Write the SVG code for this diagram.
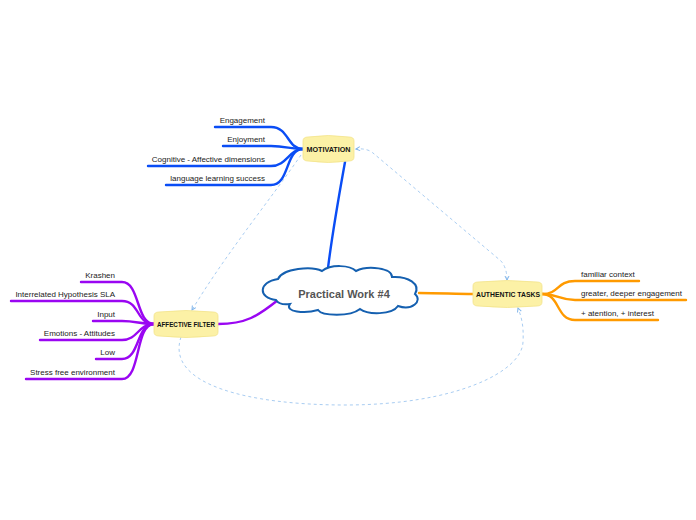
<svg xmlns="http://www.w3.org/2000/svg" width="696" height="520" viewBox="0 0 696 520">
<style>
.lbl{font-family:"Liberation Sans",Arial,sans-serif;font-size:8px;fill:#222}
.nd{fill:#fcf1a6;stroke:#f3e38c;stroke-width:0.8}
.ndt{font-family:"Liberation Sans",Arial,sans-serif;font-size:7px;font-weight:bold;fill:#111;text-anchor:middle}
.b{fill:none;stroke:#0a4df5;stroke-width:2.4;stroke-linecap:round}
.p{fill:none;stroke:#9a06f2;stroke-width:2.4;stroke-linecap:round}
.o{fill:none;stroke:#ff9a00;stroke-width:2.4;stroke-linecap:round}
.d{fill:none;stroke:#a9cdf2;stroke-width:1;stroke-dasharray:3 3}
</style>
<defs>
<marker id="ah" markerWidth="6" markerHeight="6" refX="5" refY="3" orient="auto-start-reverse" markerUnits="userSpaceOnUse">
<path d="M1,1 L5,3 L1,5" fill="none" stroke="#7fb4ea" stroke-width="1"/>
</marker>
</defs>
<rect width="696" height="520" fill="#fff"/>
<g id="connectors">
<path class="b" d="M328,268 C333,228 340,190 345,162"/>
<path class="p" d="M278,300 C258,316 246,324 218,324"/>
<path class="o" d="M419,293 C440,293 455,294 473,294"/>
<path class="b" d="M215,127 L271,127 C289,127 287,149 303,149"/>
<path class="b" d="M223,146 L271,146 C286,146 290,149 303,149"/>
<path class="b" d="M148,166 L271,166 C287,166 289,149 303,149"/>
<path class="b" d="M166,185 L271,185 C290,185 285,149 303,149"/>
<path class="p" d="M81,282 L122,282 C140,282 136,324 154,324"/>
<path class="p" d="M11,301 L122,301 C140,301 136,324 154,324"/>
<path class="p" d="M93,321 L122,321 C136,321 140,324 154,324"/>
<path class="p" d="M40,340 L122,340 C138,340 138,324 154,324"/>
<path class="p" d="M96,359 L122,359 C140,359 136,324 154,324"/>
<path class="p" d="M26,379 L122,379 C141,379 135,324 154,324"/>
<path class="o" d="M542,294 C560,294 556,281 575,281 L639,281"/>
<path class="o" d="M542,294 C558,294 560,300 575,300 L686,300"/>
<path class="o" d="M542,294 C560,294 556,320 575,320 L658,320"/>
<path class="d" marker-start="url(#ah)" marker-end="url(#ah)" d="M507,280 Q507,268 501,261 L373,153 Q367,148 356,149"/>
<path class="d" marker-end="url(#ah)" d="M301,155 C270,200 225,255 192,310"/>
<path class="d" marker-end="url(#ah)" d="M181,337 C165,385 250,405 345,405 C455,405 522,372 523,342 C524,325 521,316 518,308"/>
</g>
<g id="center">
<path d="M276,300 C258,298 258,282 278,279 C283,268 312,266 322,271 C331,264 350,265 356,271 C368,265 392,268 392,277 C408,276 421,284 415,294 C423,301 412,311 398,306 C392,315 368,315 360,309 C350,317 322,316 318,310 C305,314 284,312 290,304 C283,305 278,303 276,300 Z" fill="#fff" stroke="#1560b0" stroke-width="2"/>
<text x="344" y="298" font-family="'Liberation Sans',Arial,sans-serif" font-size="11" font-weight="bold" fill="#555" text-anchor="middle">Practical Work #4</text>
</g>
<g id="motivation">
<path class="nd" d="M303,141 Q303,137 308,137 Q328,134 349,137 Q354,137 354,141 L354,157 Q354,161 349,161 Q328,164 308,161 Q303,161 303,157 Z"/>
<text class="ndt" x="328.5" y="152" textLength="44" lengthAdjust="spacingAndGlyphs">MOTIVATION</text>
</g>
<g id="affective">
<path class="nd" d="M154,316 Q154,312 159,312 Q186,309 213,312 Q218,312 218,316 L218,332 Q218,336 213,336 Q186,339 159,336 Q154,336 154,332 Z"/>
<text class="ndt" x="186" y="327" textLength="58" lengthAdjust="spacingAndGlyphs">AFFECTIVE FILTER</text>
</g>
<g id="authentic">
<path class="nd" d="M473,286 Q473,282 478,282 Q507,279 537,282 Q542,282 542,286 L542,302 Q542,306 537,306 Q507,309 478,306 Q473,306 473,302 Z"/>
<text class="ndt" x="508" y="297" textLength="64" lengthAdjust="spacingAndGlyphs">AUTHENTIC TASKS</text>
</g>
<g id="motivation-children">
<text class="lbl" x="265" y="123" text-anchor="end">Engagement</text>
<text class="lbl" x="265" y="142" text-anchor="end">Enjoyment</text>
<text class="lbl" x="265" y="162" text-anchor="end">Cognitive - Affective dimensions</text>
<text class="lbl" x="265" y="181" text-anchor="end">language learning success</text>
</g>
<g id="affective-children">
<text class="lbl" x="115" y="278" text-anchor="end">Krashen</text>
<text class="lbl" x="115" y="297" text-anchor="end">Interrelated Hypothesis SLA</text>
<text class="lbl" x="115" y="317" text-anchor="end">Input</text>
<text class="lbl" x="115" y="336" text-anchor="end">Emotions - Attitudes</text>
<text class="lbl" x="115" y="355" text-anchor="end">Low</text>
<text class="lbl" x="115" y="375" text-anchor="end">Stress free environment</text>
</g>
<g id="authentic-children">
<text class="lbl" x="581" y="277">familiar context</text>
<text class="lbl" x="581" y="296">greater, deeper engagement</text>
<text class="lbl" x="581" y="316">+ atention, + interest</text>
</g>
</svg>
